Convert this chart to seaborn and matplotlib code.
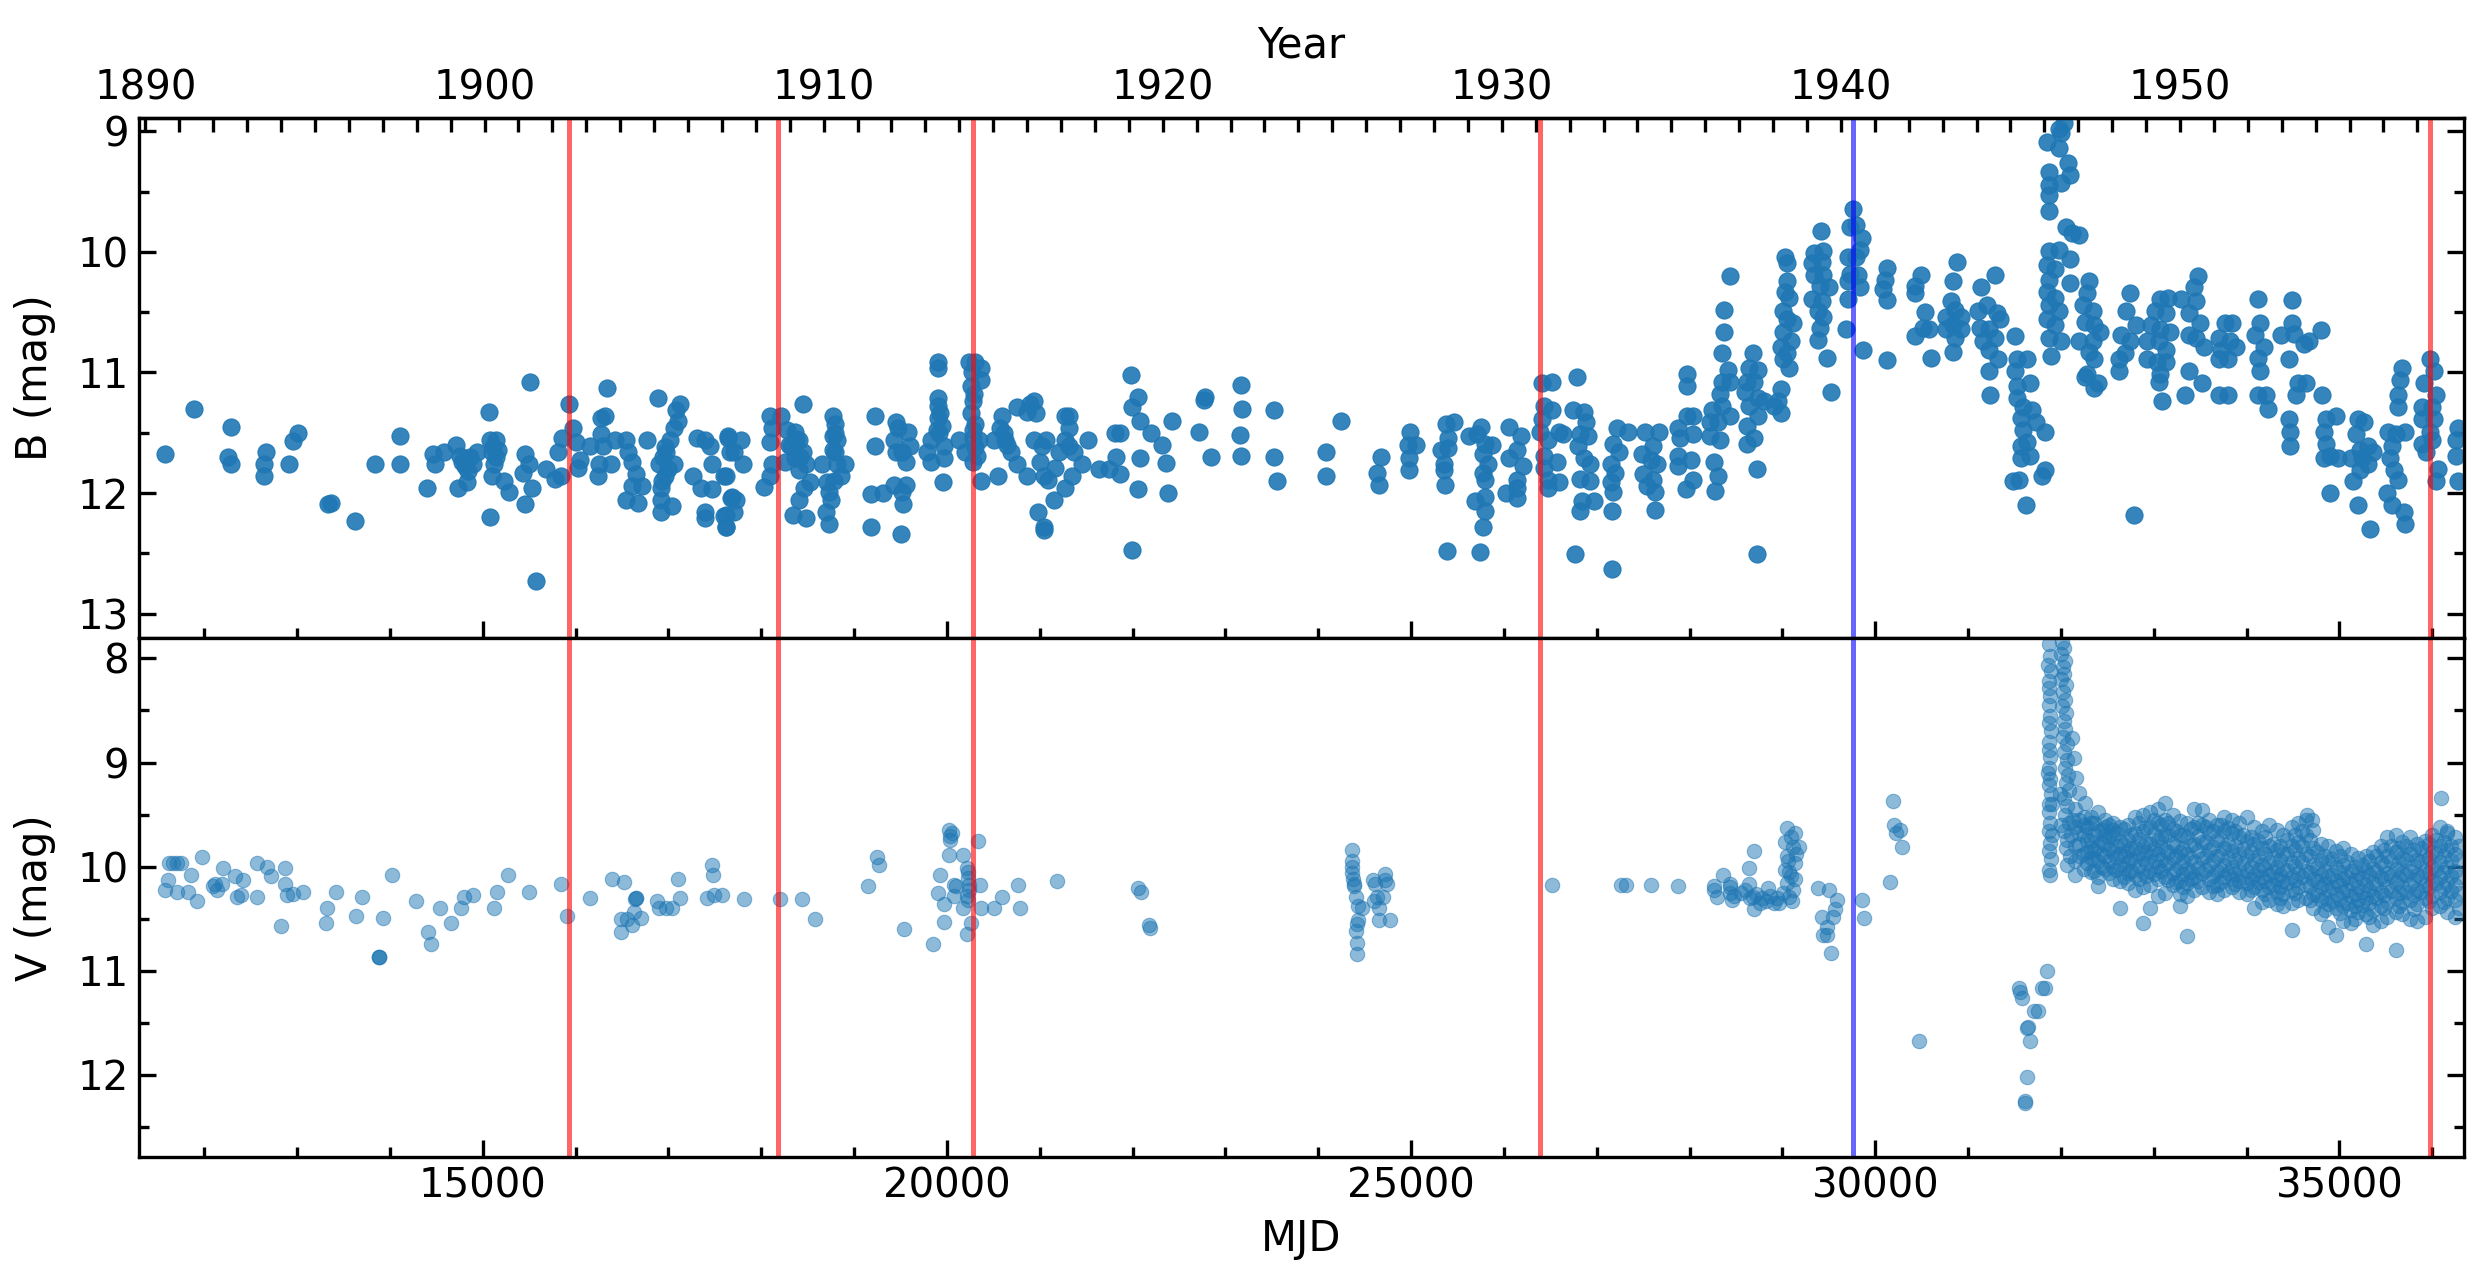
import numpy as np
import pandas as pd
import seaborn as sns
import matplotlib.pyplot as plt
from matplotlib.ticker import MultipleLocator, FixedLocator

# B-band photometry (MJD, mag)
b_1890s = [
    (11577, 11.68), (11886, 11.30), (12286, 11.45), (12257, 11.70), (12286, 11.76),
    (12670, 11.66), (12641, 11.76), (12650, 11.86), (12959, 11.57), (13008, 11.50), (12917, 11.76),
    (13330, 12.09), (13371, 12.08), (13627, 12.23), (13837, 11.76), (14113, 11.53), (14113, 11.76),
    (14402, 11.96), (14464, 11.68), (14485, 11.76), (14579, 11.66),
    (14711, 11.60), (14753, 11.69), (14773, 11.74), (14814, 11.78), (14732, 11.96), (14827, 11.91),
    (14897, 11.76), (14938, 11.66), (14860, 11.70), (14840, 11.82),
    (15070, 11.33), (15082, 11.56), (15144, 11.56), (15103, 11.66), (15165, 11.64), (15124, 11.76),
    (15103, 11.86), (15227, 11.90), (15289, 11.99), (15082, 12.20), (15140, 11.70), (15115, 11.62),
    (15515, 11.08), (15454, 11.68), (15495, 11.76), (15433, 11.83), (15536, 11.96), (15454, 12.09),
    (15577, 12.73), (15680, 11.80), (15783, 11.88), (15845, 11.86), (15816, 11.66), (15857, 11.54),
    (15928, 11.26), (15969, 11.46), (16010, 11.58), (16052, 11.73), (16031, 11.79), (16155, 11.61),
    (16278, 11.38), (16320, 11.36), (16340, 11.13), (16278, 11.51), (16299, 11.61), (16258, 11.76),
    (16237, 11.86), (16382, 11.76), (16423, 11.56), (16546, 11.56), (16567, 11.66), (16608, 11.74),
    (16650, 11.84), (16608, 11.94), (16546, 12.06), (16670, 12.08), (16711, 11.94), (16773, 11.56),
    (16889, 11.21), (17083, 11.31), (17124, 11.26), (17062, 11.46), (17021, 11.56), (16980, 11.66),
    (16897, 11.76), (16959, 11.86), (16918, 11.96), (16918, 12.06), (16918, 12.16), (17041, 12.11),
    (17062, 11.76), (16940, 11.70), (17000, 11.80), (16960, 11.62), (17100, 11.40), (16930, 11.90),
    (17309, 11.54), (17392, 11.56), (17454, 11.61), (17268, 11.86), (17351, 11.96), (17474, 11.97),
    (17474, 11.76), (17392, 12.16), (17392, 12.21),
    (17639, 11.54), (17660, 11.66), (17598, 11.86), (17680, 12.04), (17619, 12.18), (17619, 12.28),
]

b_1910s = [
    (17620, 11.86), (17620, 12.28), (17641, 11.53), (17703, 11.66), (17682, 12.03), (17724, 12.06),
    (17703, 12.16), (17600, 12.19), (17785, 11.56), (17806, 11.76),
    (18033, 11.95), (18095, 11.86), (18115, 11.76), (18095, 11.58), (18115, 11.46), (18095, 11.36),
    (18218, 11.36), (18280, 11.48), (18363, 11.49), (18322, 11.61), (18404, 11.56), (18445, 11.66),
    (18363, 11.71), (18260, 11.74), (18487, 11.76), (18404, 11.81), (18528, 11.91), (18466, 11.96),
    (18404, 12.06), (18342, 12.18), (18487, 12.21), (18445, 11.26), (18300, 11.60), (18380, 11.55),
    (18420, 11.70), (18651, 11.76), (18713, 11.91), (18734, 11.99), (18775, 11.36), (18796, 11.43),
    (18775, 11.53), (18816, 11.56), (18775, 11.64), (18816, 11.76), (18858, 11.86), (18899, 11.76),
    (18755, 12.06), (18693, 12.16), (18734, 12.26), (18790, 11.50), (18800, 11.66), (18780, 11.90),
    (19229, 11.36), (19221, 11.61), (19188, 12.01), (19311, 12.00), (19188, 12.28),
    (19456, 11.41), (19476, 11.46), (19579, 11.49), (19435, 11.56), (19456, 11.66), (19517, 11.66),
    (19600, 11.61), (19559, 11.74), (19435, 11.93), (19559, 11.93), (19517, 11.99), (19530, 12.09),
    (19509, 12.34),
    (19909, 10.91), (19909, 10.96), (19909, 11.21), (19909, 11.28), (19930, 11.34), (19951, 11.44),
    (19889, 11.48), (19827, 11.56), (19786, 11.66), (19827, 11.74), (19971, 11.61), (19971, 11.71),
    (19963, 11.91), (19900, 11.38), (19920, 11.50),
    (20239, 10.91), (20301, 10.91), (20363, 10.96), (20363, 11.06), (20260, 11.11), (20280, 11.24),
    (20260, 11.34), (20301, 11.43), (20280, 11.54), (20342, 11.56), (20136, 11.56), (20198, 11.66),
    (20280, 11.74), (20322, 11.69), (20367, 11.90), (20270, 11.00), (20290, 11.18), (20285, 11.48),
    (20300, 11.62),
    (20507, 11.56), (20590, 11.36), (20569, 11.46), (20631, 11.56), (20693, 11.66), (20549, 11.86),
    (20755, 11.29), (20858, 11.33), (20899, 11.26), (20940, 11.24), (20961, 11.34), (20755, 11.76),
    (20858, 11.86), (20610, 11.50), (20650, 11.60),
    (20940, 11.56), (21023, 11.61), (21064, 11.56), (21002, 11.74), (21043, 11.86), (21084, 11.89),
    (21167, 11.79), (21159, 12.06), (20981, 12.16), (21043, 12.28), (21043, 12.31),
    (21270, 11.36), (21311, 11.36), (21311, 11.46), (21270, 11.56), (21208, 11.66), (21373, 11.66),
    (21311, 11.61), (21456, 11.76), (21353, 11.86), (21270, 11.96), (21518, 11.56),
    (21641, 11.80), (21744, 11.80), (21806, 11.50), (21868, 11.50), (21827, 11.70), (21860, 11.84),
    (21984, 11.02), (22054, 11.20), (21992, 11.29), (22075, 11.40), (22198, 11.50), (22075, 11.71),
    (22054, 11.97), (21992, 12.47),
    (22322, 11.60), (22425, 11.40), (22355, 11.75), (22384, 12.00),
    (22714, 11.49), (22767, 11.23), (22784, 11.20), (22846, 11.70),
    (23167, 11.10), (23180, 11.30), (23155, 11.52), (23167, 11.69),
    (23526, 11.31), (23526, 11.70), (23559, 11.90),
]

b_1920s = [
    (24080, 11.66), (24080, 11.86), (24245, 11.40), (24678, 11.70), (24637, 11.83), (24658, 11.93),
    (24988, 11.49), (24967, 11.60), (25049, 11.60), (24975, 11.71), (24979, 11.81),
    (25379, 11.43), (25462, 11.41), (25400, 11.54), (25318, 11.64), (25400, 11.63), (25359, 11.76),
    (25359, 11.81), (25367, 11.93), (25388, 12.48),
    (25627, 11.53), (25751, 11.45), (25709, 11.51), (25792, 11.59), (25874, 11.60), (25771, 11.68),
    (25833, 11.76), (25771, 11.83), (25792, 11.89), (25689, 12.07), (25792, 12.03), (25792, 12.15),
    (25771, 12.28), (25742, 12.49),
    (26060, 11.45), (26184, 11.53), (26142, 11.64), (26060, 11.71), (26204, 11.78), (26142, 11.89),
    (26142, 11.96), (26019, 12.00), (26142, 12.04),
    (26410, 11.09), (26513, 11.08), (26431, 11.28), (26513, 11.31), (26410, 11.39), (26390, 11.49),
    (26472, 11.56), (26596, 11.49), (26431, 11.69), (26575, 11.74), (26431, 11.79), (26472, 11.89),
    (26472, 11.96), (26596, 11.91), (26637, 11.51),
    (26782, 11.04), (26740, 11.31), (26864, 11.33), (26885, 11.41), (26823, 11.51), (26905, 11.53),
    (26802, 11.61), (26864, 11.71), (26926, 11.76), (26823, 11.88), (26926, 11.90), (26843, 12.07),
    (26967, 12.07), (26815, 12.15), (26761, 12.51),
    (27215, 11.46), (27338, 11.49), (27173, 11.59), (27235, 11.66), (27153, 11.76), (27194, 11.83),
    (27153, 11.91), (27173, 11.99), (27165, 12.15), (27165, 12.63),
    (27524, 11.49), (27668, 11.49), (27483, 11.68), (27606, 11.61), (27586, 11.73), (27648, 11.76),
    (27503, 11.84), (27606, 11.89), (27544, 11.94), (27627, 11.99), (27627, 12.14),
    (27977, 11.01), (27977, 11.11), (27977, 11.36), (28039, 11.36), (27874, 11.46), (28039, 11.51),
    (27895, 11.54), (27874, 11.69), (27874, 11.78), (28018, 11.73), (28039, 11.89), (27957, 11.97),
]

b_1930s = [
    (28369, 10.48), (28369, 10.66), (28349, 10.84), (28431, 10.20), (28411, 10.98), (28349, 11.08),
    (28431, 11.08), (28328, 11.18), (28349, 11.28), (28245, 11.31), (28225, 11.41), (28307, 11.41),
    (28431, 11.36), (28225, 11.53), (28328, 11.56), (28266, 11.74), (28307, 11.86), (28274, 11.98),
    (28679, 10.84), (28637, 10.96), (28740, 10.98), (28617, 11.08), (28699, 11.08), (28596, 11.16),
    (28740, 11.21), (28802, 11.24), (28637, 11.28), (28740, 11.36), (28617, 11.44), (28699, 11.54),
    (28617, 11.59), (28728, 11.80), (28728, 12.51),
    (29029, 10.04), (29050, 10.09), (29050, 10.24), (29029, 10.33), (29070, 10.38), (29009, 10.49),
    (29050, 10.56), (29112, 10.59), (29009, 10.66), (29091, 10.74), (28988, 10.79), (29050, 10.84),
    (29009, 10.89), (29070, 10.96), (28988, 11.14), (28947, 11.24), (28988, 11.34), (28905, 11.28),
    (29413, 9.83), (29339, 10.01), (29442, 9.99), (29318, 10.09), (29421, 10.08), (29339, 10.19),
    (29442, 10.19), (29400, 10.28), (29504, 10.29), (29318, 10.39), (29421, 10.41), (29380, 10.49),
    (29442, 10.54), (29400, 10.63), (29380, 10.73), (29483, 10.88), (29524, 11.16),
    (29759, 9.64), (29730, 9.79), (29792, 9.78), (29854, 9.88), (29833, 9.98), (29709, 10.04),
    (29792, 10.04), (29730, 10.18), (29813, 10.19), (29709, 10.24), (29833, 10.29), (29709, 10.39),
    (29689, 10.64), (29866, 10.81),
    (30122, 10.13), (30101, 10.23), (30081, 10.31), (30122, 10.40), (30122, 10.90),
]

b_1940s = [
    (30493, 10.19), (30431, 10.28), (30431, 10.34), (30534, 10.50), (30514, 10.63), (30575, 10.64),
    (30431, 10.70), (30595, 10.88),
    (30879, 10.08), (30838, 10.24), (30818, 10.41), (30859, 10.48), (30757, 10.54), (30919, 10.54),
    (30838, 10.61), (30757, 10.64), (30919, 10.64), (30859, 10.71), (30838, 10.83),
    (31143, 10.29), (31285, 10.19), (31102, 10.49), (31204, 10.44), (31306, 10.51), (31346, 10.56),
    (31123, 10.63), (31224, 10.64), (31285, 10.71), (31163, 10.74), (31224, 10.81), (31326, 10.89),
    (31224, 10.99), (31233, 11.19), (31509, 10.70),
    (31529, 10.89), (31630, 10.89), (31508, 10.99), (31529, 11.11), (31671, 11.09), (31529, 11.21),
    (31590, 11.29), (31691, 11.31), (31569, 11.38), (31732, 11.41), (31833, 11.49), (31590, 11.48),
    (31630, 11.58), (31569, 11.61), (31671, 11.69), (31569, 11.71), (31549, 11.89), (31488, 11.90),
    (31622, 12.10), (31825, 11.81), (31801, 11.86),
    (31854, 9.09), (31975, 8.98), (32036, 8.93), (31996, 9.01), (31975, 9.14), (32077, 9.26),
    (32097, 9.36), (31874, 9.34), (31874, 9.44), (31996, 9.43), (31874, 9.53), (31874, 9.66),
    (32057, 9.79), (32117, 9.84), (32199, 9.86), (32097, 10.06), (32097, 10.26),
    (31874, 9.99), (31975, 9.98), (31854, 10.11), (31935, 10.14), (31874, 10.23), (31854, 10.33),
    (31935, 10.38), (31874, 10.44), (31975, 10.49), (31854, 10.56), (31935, 10.61), (31874, 10.71),
    (31996, 10.74), (31894, 10.86),
    (32300, 10.24), (32280, 10.34), (32239, 10.44), (32341, 10.49), (32260, 10.58), (32361, 10.61),
    (32422, 10.66), (32199, 10.74), (32341, 10.74), (32300, 10.83), (32361, 10.89), (32280, 11.01),
    (32260, 11.04), (32361, 11.13), (32402, 11.09),
    (32747, 10.34), (32706, 10.49), (32808, 10.61), (32645, 10.69), (32747, 10.74), (32625, 10.89),
    (32686, 10.84), (32625, 10.99), (32787, 12.18),
    (33072, 10.39), (33153, 10.38), (33011, 10.49), (33133, 10.51), (32970, 10.61), (33072, 10.64),
    (33173, 10.66), (32929, 10.74), (33051, 10.74), (33133, 10.81), (32929, 10.89), (33031, 10.91),
    (33133, 10.91), (33072, 11.01), (33051, 11.08), (33084, 11.24),
    (33478, 10.20), (33437, 10.29), (33295, 10.39), (33457, 10.41), (33376, 10.51), (33498, 10.59),
    (33376, 10.69), (33457, 10.71), (33538, 10.79), (33376, 10.99), (33335, 11.19), (33518, 11.09),
    (33762, 10.59), (33843, 10.59), (33701, 10.71), (33823, 10.74), (33721, 10.81), (33884, 10.79),
    (33701, 10.89), (33802, 10.89), (33701, 11.19), (33802, 11.19),
    (34127, 10.39), (34147, 10.59), (34087, 10.69), (34188, 10.79), (34127, 10.88), (34147, 10.99),
    (34127, 11.19), (34208, 11.19), (34229, 11.30),
    (34493, 10.40), (34493, 10.59), (34371, 10.69), (34513, 10.68), (34614, 10.76), (34675, 10.74),
    (34452, 10.89), (34553, 11.09), (34635, 11.09), (34533, 11.19), (34452, 11.39), (34472, 11.49),
    (34472, 11.61), (34797, 10.65), (34817, 11.19),
    (34858, 11.39), (34959, 11.36), (34838, 11.49), (34858, 11.59), (34898, 11.69), (34980, 11.71),
    (34838, 11.71), (34898, 12.00),
    (35203, 11.39), (35264, 11.41), (35183, 11.51), (35305, 11.61), (35223, 11.64), (35365, 11.66),
    (35122, 11.71), (35244, 11.71), (35305, 11.76), (35223, 11.81), (35142, 11.90), (35203, 12.10),
    (35325, 12.30),
    (35670, 10.96), (35650, 11.06), (35629, 11.19), (35629, 11.29), (35528, 11.49), (35609, 11.51),
    (35711, 11.49), (35568, 11.61), (35548, 11.71), (35589, 11.81), (35629, 11.89), (35508, 12.00),
    (35568, 12.10), (35690, 12.16), (35711, 12.26),
    (35974, 10.89), (36015, 10.99), (35914, 11.09), (36035, 11.19), (35893, 11.29), (35995, 11.29),
    (35893, 11.39), (36015, 11.39), (35974, 11.49), (35893, 11.59), (35995, 11.56), (35934, 11.66),
    (36056, 11.80), (36035, 11.90),
    (36279, 11.46), (36259, 11.56), (36259, 11.69), (36279, 11.90),
]

# V-band photometry (MJD, mag)
v_1890s = [
    (11577, 10.22), (11606, 10.13), (11618, 9.97), (11668, 9.97), (11709, 9.97), (11754, 9.97),
    (11709, 10.24), (11825, 10.24), (11858, 10.08), (11919, 10.33), (11981, 9.91), (12208, 10.01),
    (12113, 10.17), (12093, 10.19), (12134, 10.22), (12196, 10.17), (12332, 10.09), (12423, 10.13),
    (12352, 10.29), (12402, 10.27), (12567, 9.97), (12567, 10.29), (12682, 10.00), (12723, 10.09),
    (12868, 10.01), (12868, 10.17), (12897, 10.27), (12959, 10.26), (13062, 10.24), (12827, 10.57),
    (13322, 10.40), (13309, 10.54), (13421, 10.24), (13639, 10.47), (13701, 10.29), (13928, 10.49),
    (14019, 10.08), (13878, 10.87), (13878, 10.87), (13878, 10.87), (14278, 10.33), (14414, 10.63),
    (14443, 10.74), (14538, 10.40), (14658, 10.54), (14765, 10.40), (14794, 10.29), (14897, 10.27),
    (15124, 10.40), (15153, 10.24), (15276, 10.08), (15495, 10.24), (15845, 10.17), (15907, 10.47),
    (16155, 10.30), (16394, 10.12), (16526, 10.15), (16650, 10.30), (16650, 10.30), (16640, 10.31),
    (16629, 10.44), (16493, 10.50), (16555, 10.50), (16608, 10.56), (16493, 10.63), (16703, 10.49),
    (16876, 10.33), (16897, 10.40), (16980, 10.40), (17041, 10.40), (17103, 10.12), (17124, 10.30),
    (17466, 9.98), (17483, 10.08), (17421, 10.30), (17495, 10.27), (17578, 10.27),
]

v_1910s = [
    (17818, 10.31), (18198, 10.31), (18437, 10.31), (18581, 10.50), (19146, 10.19), (19249, 9.91),
    (19270, 9.98), (19534, 10.60), (19847, 10.74), (19922, 10.08), (19909, 10.25), (19971, 10.36),
    (19971, 10.53), (20025, 9.65), (20054, 9.68), (20033, 9.74), (20033, 9.71), (20025, 9.89),
    (20177, 9.89), (20074, 10.18), (20095, 10.19), (20074, 10.28), (20177, 10.40), (20219, 10.65),
    (20260, 10.54), (20219, 10.01), (20227, 10.11), (20239, 10.18), (20219, 10.28), (20231, 10.32),
    (20227, 10.05), (20235, 10.22), (20334, 9.75), (20355, 10.18), (20363, 10.40), (20507, 10.40),
    (20590, 10.29), (20767, 10.18), (20784, 10.40), (21188, 10.14), (22062, 10.21), (22095, 10.24),
    (22177, 10.56), (22190, 10.59),
]

v_1920s = [
    (24361, 9.95), (24369, 9.84), (24369, 10.06), (24381, 10.17), (24390, 10.19), (24410, 10.29),
    (24431, 10.38), (24472, 10.40), (24423, 10.51), (24410, 10.62), (24419, 10.73), (24419, 10.84),
    (24365, 10.00), (24375, 10.12), (24415, 10.55),
    (24588, 10.13), (24720, 10.07), (24740, 10.17), (24637, 10.29), (24596, 10.33), (24658, 10.40),
    (24699, 10.29), (24658, 10.51), (24769, 10.51), (24616, 10.17), (24720, 10.13),
    (26513, 10.18), (27256, 10.18), (27318, 10.18), (27586, 10.18), (27874, 10.19),
    (28266, 10.19), (28299, 10.29), (28357, 10.08), (28431, 10.17), (28452, 10.32), (28431, 10.25),
    (28555, 10.25), (28637, 10.01), (28699, 9.85), (28637, 10.17), (28679, 10.29), (28699, 10.41),
    (28761, 10.35), (28844, 10.21), (28823, 10.33), (28905, 10.35), (28967, 10.35), (29009, 10.25),
    (28260, 10.22), (28440, 10.20), (28480, 10.28), (28600, 10.22), (28650, 10.30), (28720, 10.26),
    (28780, 10.30), (28870, 10.28), (28940, 10.30),
    (29050, 9.63), (29132, 9.68), (29029, 9.76), (29112, 9.81), (29174, 9.81), (29050, 9.90),
    (29132, 9.97), (29029, 10.03), (29091, 10.09), (29050, 10.16), (29112, 10.22), (29070, 10.29),
    (29099, 10.33), (29091, 9.72), (29150, 9.88), (29070, 10.05), (29140, 10.12), (29060, 9.95),
    (29380, 10.21), (29504, 10.22), (29586, 10.32), (29565, 10.41), (29421, 10.48), (29545, 10.48),
    (29483, 10.58), (29442, 10.66), (29483, 10.66), (29524, 10.83),
    (29862, 10.32), (29874, 10.49),
    (30196, 9.37), (30204, 9.60), (30266, 9.65), (30225, 9.68), (30287, 9.81), (30163, 10.15),
]

v_1940s = [
    (30473, 11.68),
    (31549, 11.17), (31582, 11.26), (31793, 11.17), (31833, 11.17), (31854, 11.00), (31711, 11.39),
    (31752, 11.39), (31650, 11.54), (31630, 11.55), (31671, 11.68), (31630, 12.02), (31610, 12.25),
    (31615, 12.27), (31560, 11.20),
    # rise to maximum
    (31870, 7.86), (31880, 7.98), (31865, 8.06), (31890, 8.12), (31875, 8.22), (31868, 8.28),
    (31885, 8.36), (31872, 8.45), (31880, 8.55), (31866, 8.62), (31890, 8.70), (31875, 8.80),
    (31870, 8.88), (31885, 8.95), (31872, 9.05), (31880, 9.16), (31866, 9.22), (31890, 9.30),
    (31876, 9.40), (31870, 9.48), (31884, 9.58), (31872, 9.66), (31880, 9.77), (31868, 9.85),
    (31888, 9.93), (31875, 10.03), (31882, 10.08), (31900, 9.70), (31905, 9.40), (31860, 9.10),
    (32010, 7.84), (32030, 7.90), (32000, 7.96), (32045, 8.02), (32020, 8.08), (32035, 8.15),
    (32005, 8.20), (32050, 8.26), (32025, 8.32), (32040, 8.40), (32015, 8.46), (32055, 8.52),
    (32030, 8.60), (32045, 8.68), (32020, 8.75), (32060, 8.82), (32035, 8.90), (32070, 8.98),
    (32040, 9.05), (32080, 9.12), (32050, 9.20), (32090, 9.26), (32030, 9.34), (32065, 9.42),
    (32045, 9.50), (32085, 9.58), (32035, 9.66), (32070, 9.74), (32050, 9.82), (32095, 9.90),
    (32060, 9.98), (32000, 9.60), (31990, 9.30), (32110, 9.70), (32130, 9.55),
    (32117, 8.76), (32138, 8.96), (32158, 9.15), (32199, 9.29), (32260, 9.39), (32320, 9.52),
    (34650, 9.50), (34700, 9.55), (36096, 9.34), (36160, 9.68),
]

# post-maximum plateau: MJD and the spread of V seen at that date
v_plateau = [
    (32152, (9.45, 9.62, 9.80, 9.95, 10.08)),
    (32195, (9.55, 9.68, 9.78, 9.90)),
    (32247, (9.52, 9.60, 9.70, 9.88, 10.02)),
    (32283, (9.62, 9.74, 9.86, 9.97)),
    (32326, (9.58, 9.75, 9.82, 9.92, 10.05)),
    (32361, (9.58, 9.70, 9.84, 9.93, 10.04)),
    (32404, (9.48, 9.66, 9.80, 9.95, 10.10, 10.19)),
    (32437, (9.65, 9.76, 9.88, 10.00)),
    (32476, (9.55, 9.62, 9.70, 9.78, 9.90, 10.02)),
    (32522, (9.60, 9.72, 9.83, 9.95, 10.06)),
    (32565, (9.58, 9.65, 9.72, 9.86, 10.00, 10.12)),
    (32598, (9.68, 9.80, 9.91, 10.03)),
    (32637, (9.62, 9.76, 9.88, 9.98, 10.14, 10.40)),
    (32683, (9.64, 9.79, 9.90, 10.01, 10.10)),
    (32724, (9.60, 9.74, 9.85, 9.96, 10.06, 10.16)),
    (32757, (9.70, 9.82, 9.93, 10.04)),
    (32796, (9.52, 9.68, 9.82, 9.94, 10.08, 10.22)),
    (32843, (9.58, 9.73, 9.87, 9.99, 10.12)),
    (32884, (9.50, 9.66, 9.80, 9.92, 10.05, 10.20, 10.54)),
    (32918, (9.62, 9.76, 9.86, 9.97, 10.09)),
    (32957, (9.48, 9.62, 9.78, 9.90, 10.04, 10.18, 10.40)),
    (33004, (9.55, 9.69, 9.83, 9.95, 10.07)),
    (33043, (9.45, 9.58, 9.74, 9.88, 10.00, 10.12, 10.28)),
    (33082, (9.60, 9.72, 9.81, 9.94, 10.04)),
    (33117, (9.39, 9.55, 9.70, 9.84, 9.98, 10.10, 10.25)),
    (33158, (9.58, 9.70, 9.86, 9.97, 10.13)),
    (33203, (9.50, 9.64, 9.78, 9.92, 10.06, 10.18)),
    (33243, (9.66, 9.80, 9.90, 10.03, 10.15)),
    (33277, (9.56, 9.70, 9.86, 10.00, 10.14, 10.26, 10.38)),
    (33318, (9.70, 9.83, 9.95, 10.07, 10.20)),
    (33362, (9.58, 9.72, 9.88, 10.02, 10.16, 10.28, 10.67)),
    (33402, (9.64, 9.79, 9.92, 10.05, 10.12)),
    (33436, (9.45, 9.62, 9.78, 9.96, 10.10, 10.22)),
    (33477, (9.58, 9.71, 9.85, 10.01, 10.14)),
    (33524, (9.46, 9.60, 9.76, 9.92, 10.06, 10.20)),
    (33563, (9.62, 9.76, 9.90, 10.03)),
    (33597, (9.55, 9.68, 9.84, 9.98, 10.12, 10.24)),
    (33638, (9.66, 9.81, 9.95, 10.09, 10.19)),
    (33683, (9.60, 9.74, 9.90, 10.04, 10.18, 10.26)),
    (33722, (9.60, 9.74, 9.89, 10.03, 10.15)),
    (33756, (9.52, 9.66, 9.82, 9.98, 10.10, 10.22)),
    (33801, (9.63, 9.78, 9.92, 10.06)),
    (33844, (9.55, 9.68, 9.85, 10.00, 10.12, 10.20)),
    (33879, (9.66, 9.80, 9.94, 10.07, 10.17)),
    (33917, (9.58, 9.72, 9.88, 10.02, 10.14, 10.24)),
    (33961, (9.70, 9.83, 9.97, 10.10)),
    (34003, (9.52, 9.75, 9.90, 10.04, 10.16, 10.26)),
    (34042, (9.72, 9.86, 10.00, 10.12, 10.22)),
    (34077, (9.62, 9.78, 9.94, 10.08, 10.20, 10.40)),
    (34118, (9.75, 9.90, 10.03, 10.15)),
    (34163, (9.66, 9.82, 9.98, 10.10, 10.22, 10.34)),
    (34203, (9.72, 9.88, 10.02, 10.14, 10.26)),
    (34236, (9.60, 9.80, 9.96, 10.08, 10.20, 10.32)),
    (34279, (9.78, 9.92, 10.05, 10.18)),
    (34324, (9.65, 9.84, 10.00, 10.12, 10.24, 10.36)),
    (34362, (9.80, 9.94, 10.08, 10.20, 10.30)),
    (34397, (9.70, 9.88, 10.02, 10.14, 10.26, 10.38)),
    (34438, (9.74, 9.88, 10.03, 10.16)),
    (34484, (9.62, 9.80, 9.96, 10.10, 10.22, 10.35, 10.61)),
    (34523, (9.70, 9.84, 9.99, 10.13, 10.25)),
    (34556, (9.58, 9.76, 9.92, 10.06, 10.20, 10.32)),
    (34597, (9.66, 9.80, 9.96, 10.10)),
    (34643, (9.55, 9.70, 9.88, 10.04, 10.18, 10.30)),
    (34682, (9.74, 9.90, 10.05, 10.19, 10.32)),
    (34717, (9.65, 9.82, 9.98, 10.12, 10.26, 10.40)),
    (34758, (9.86, 10.01, 10.14, 10.27)),
    (34804, (9.78, 9.94, 10.08, 10.20, 10.32, 10.46)),
    (34843, (9.90, 10.04, 10.17, 10.30, 10.42)),
    (34876, (9.80, 9.96, 10.10, 10.22, 10.36, 10.58)),
    (34917, (9.93, 10.08, 10.20, 10.33)),
    (34963, (9.85, 10.00, 10.14, 10.26, 10.40, 10.66)),
    (35004, (9.90, 10.05, 10.18, 10.31, 10.45)),
    (35037, (9.82, 9.98, 10.12, 10.24, 10.38, 10.52)),
    (35078, (9.96, 10.10, 10.22, 10.35)),
    (35124, (9.88, 10.04, 10.16, 10.28, 10.42, 10.54)),
    (35163, (10.00, 10.13, 10.26, 10.38, 10.50)),
    (35196, (9.92, 10.06, 10.20, 10.32, 10.44)),
    (35238, (9.98, 10.11, 10.24, 10.37)),
    (35284, (9.90, 10.04, 10.18, 10.30, 10.46, 10.74)),
    (35322, (9.95, 10.08, 10.22, 10.35, 10.48)),
    (35357, (9.86, 10.02, 10.16, 10.28, 10.42, 10.56)),
    (35398, (9.90, 10.04, 10.17, 10.30)),
    (35444, (9.80, 9.96, 10.10, 10.24, 10.38, 10.52)),
    (35483, (9.84, 9.98, 10.12, 10.27, 10.40)),
    (35516, (9.72, 9.90, 10.06, 10.20, 10.34, 10.48)),
    (35559, (9.80, 9.95, 10.09, 10.23)),
    (35604, (9.70, 9.86, 10.02, 10.16, 10.30, 10.44, 10.80)),
    (35643, (9.82, 9.97, 10.11, 10.25, 10.38)),
    (35677, (9.76, 9.92, 10.06, 10.20, 10.34, 10.46)),
    (35718, (9.80, 9.94, 10.08, 10.24)),
    (35764, (9.72, 9.88, 10.04, 10.18, 10.32, 10.50)),
    (35803, (9.84, 9.99, 10.13, 10.27, 10.41)),
    (35836, (9.78, 9.94, 10.08, 10.22, 10.36, 10.52)),
    (35879, (9.82, 9.96, 10.10, 10.24)),
    (35924, (9.75, 9.90, 10.04, 10.18, 10.30, 10.48)),
    (35962, (9.78, 9.92, 10.06, 10.20, 10.33)),
    (35997, (9.70, 9.86, 10.00, 10.14, 10.28, 10.40)),
    (36041, (9.74, 9.88, 10.02, 10.16)),
    (36084, (9.62, 9.80, 9.96, 10.10, 10.24, 10.38)),
    (36122, (9.76, 9.90, 10.05, 10.20, 10.34)),
    (36157, (9.66, 9.84, 10.00, 10.16, 10.30, 10.44)),
    (36203, (9.80, 9.94, 10.09, 10.23)),
    (36244, (9.72, 9.88, 10.04, 10.18, 10.32, 10.48)),
    (36290, (9.80, 9.95, 10.10, 10.25, 10.40)),
]

red_events = [15926, 18176, 20285, 26387, 35978]
blue_events = [29763]
year_ticks = [1890, 1900, 1910, 1920, 1930, 1940, 1950]

b_df = pd.DataFrame(b_1890s + b_1910s + b_1920s + b_1930s + b_1940s, columns=["mjd", "mag"])
v_pairs = v_1890s + v_1910s + v_1920s + v_1940s
v_pairs += [(m, v) for m, col in v_plateau for v in col]
v_df = pd.DataFrame(v_pairs, columns=["mjd", "mag"])


def mjd_to_year(mjd):
    return 1858.877 + np.asarray(mjd) / 365.25


def year_to_mjd(year):
    return (np.asarray(year) - 1858.877) * 365.25


sns.set_style("ticks")
plt.rcParams["font.family"] = ["DejaVu Sans"]
plt.rcParams.update({
    "axes.linewidth": 1.2,
    "axes.edgecolor": "black",
    "axes.labelcolor": "black",
    "text.color": "black",
    "xtick.color": "black",
    "ytick.color": "black",
})

fig, (ax_b, ax_v) = plt.subplots(2, 1, figsize=(12.4, 6.425), dpi=200, sharex=True)
fig.subplots_adjust(left=0.056, right=0.9935, top=0.908, bottom=0.0996, hspace=0)

blue = "#1f77b4"
sns.scatterplot(data=b_df, x="mjd", y="mag", ax=ax_b, color=blue, s=38, alpha=0.9,
                edgecolor=blue, linewidth=0.4, legend=False)
sns.scatterplot(data=v_df, x="mjd", y="mag", ax=ax_v, color=blue, s=27, alpha=0.5,
                edgecolor=blue, linewidth=0.4, legend=False)

for ax in (ax_b, ax_v):
    for t in red_events:
        ax.axvline(t, color="red", alpha=0.6, lw=1.8)
    for t in blue_events:
        ax.axvline(t, color="blue", alpha=0.6, lw=1.8)
    ax.yaxis.set_major_locator(MultipleLocator(1))
    ax.yaxis.set_minor_locator(MultipleLocator(0.5))
    ax.xaxis.set_major_locator(MultipleLocator(5000))
    ax.xaxis.set_minor_locator(MultipleLocator(1000))
    ax.tick_params(which="both", direction="in", right=True, labelsize=14.5, width=1.2)
    ax.tick_params(which="major", length=6)
    ax.tick_params(which="minor", length=3.5)

ax_b.set_xlim(11297, 36340)
ax_b.set_ylim(13.2, 8.89)
ax_v.set_ylim(12.79, 7.80)

ax_b.tick_params(axis="x", which="both", bottom=True, top=False, labelbottom=False)
ax_v.tick_params(axis="x", which="both", top=False)

ax_b.set_xlabel("")
ax_b.set_ylabel("B (mag)", fontsize=15, labelpad=8)
ax_v.set_ylabel("V (mag)", fontsize=15, labelpad=8)
ax_v.set_xlabel("MJD", fontsize=15)
fig.align_ylabels([ax_b, ax_v])

top = ax_b.secondary_xaxis("top", functions=(mjd_to_year, year_to_mjd))
top.xaxis.set_major_locator(FixedLocator(year_ticks))
top.xaxis.set_minor_locator(FixedLocator(list(range(1890, 1958))))
top.tick_params(which="both", direction="in", length=5, width=1.2, labelsize=14.5)
top.set_xlabel("Year", fontsize=15)

fig.savefig("out.png", dpi=200)
